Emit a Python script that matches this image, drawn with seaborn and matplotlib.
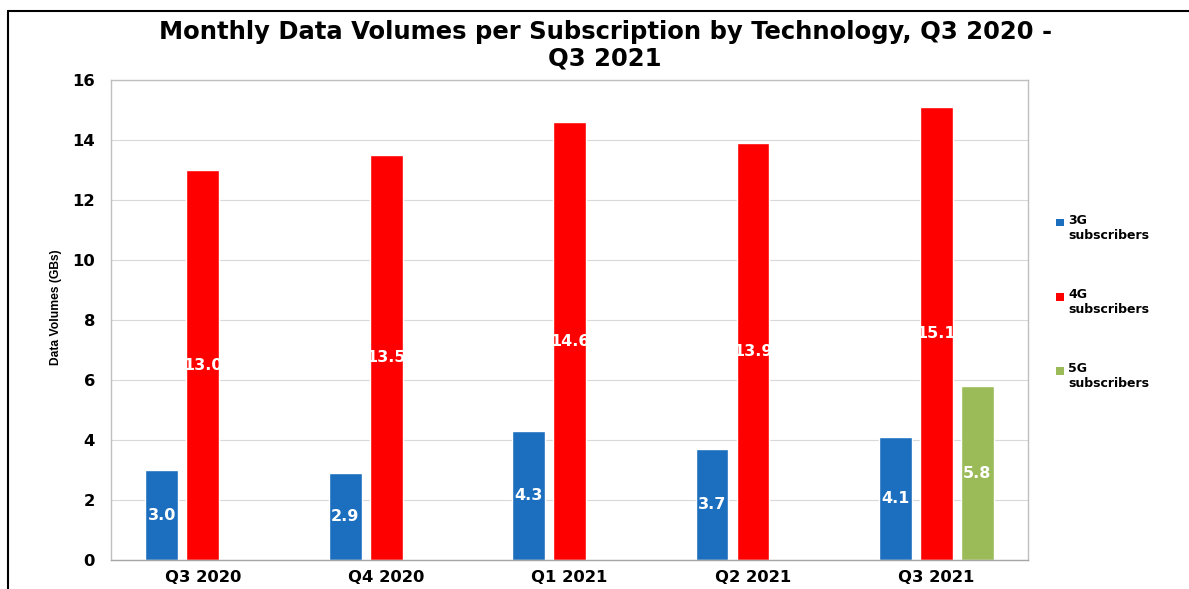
import matplotlib
matplotlib.use("Agg")
import matplotlib.pyplot as plt
import seaborn as sns
import pandas as pd
import numpy as np
from matplotlib.lines import Line2D
from matplotlib.patches import Patch, Rectangle
from matplotlib.legend_handler import HandlerPatch
from matplotlib import font_manager

quarters = ["Q3 2020", "Q4 2020", "Q1 2021", "Q2 2021", "Q3 2021"]
series_names = ["3G subscribers", "4G subscribers", "5G subscribers"]
vol_3g = [3.0, 2.9, 4.3, 3.7, 4.1]
vol_4g = [13.0, 13.5, 14.6, 13.9, 15.1]
vol_5g = [np.nan, np.nan, np.nan, np.nan, 5.8]
colors = ["#1C6EBE", "#FF0000", "#9BBB59"]

rows = []
for name, vals in zip(series_names, [vol_3g, vol_4g, vol_5g]):
    for q, v in zip(quarters, vals):
        rows.append({"Quarter": q, "Technology": name, "GB": v})
df = pd.DataFrame(rows)

sns.set_theme(style="white")
plt.rcParams['font.family'] = ['DejaVu Sans']
plt.rcParams['text.color'] = 'black'
plt.rcParams['axes.labelcolor'] = 'black'
plt.rcParams['xtick.color'] = 'black'
plt.rcParams['ytick.color'] = 'black'

installed = {f.name for f in font_manager.fontManager.ttflist}
if "Liberation Sans Narrow" in installed:
    ylab_family, ylab_size = "Liberation Sans Narrow", 10.5
else:
    ylab_family, ylab_size = "Liberation Sans", 8.7

fig = plt.figure(figsize=(11.89, 5.89), dpi=100)
ax = fig.add_axes([0.0934, 0.0492, 0.7712, 0.815])

sns.barplot(data=df, x="Quarter", y="GB", hue="Technology",
            order=quarters, hue_order=series_names, palette=colors,
            width=0.67, gap=0.2, dodge=True, ax=ax, legend=False, saturation=1,
            errorbar=None)

for cont in ax.containers:
    labels = []
    for p in cont:
        h = p.get_height()
        labels.append("" if (h is None or np.isnan(h) or h == 0) else f"{h:.1f}")
    ax.bar_label(cont, labels=labels, label_type="center", color="white",
                 fontweight="bold", fontsize=11.5)

ax.set_ylim(0, 16)
ax.set_yticks(range(0, 17, 2))
ax.set_xlim(-0.5, 4.5)
ax.yaxis.grid(True, color="#d9d9d9", linewidth=0.8)
ax.set_axisbelow(True)
for s in ax.spines.values():
    s.set_visible(True)
    s.set_color("#bfbfbf")
    s.set_linewidth(1.0)
ax.spines["bottom"].set_color("#a6a6a6")
ax.tick_params(axis="both", length=0, labelsize=11.8, colors="black")
ax.tick_params(axis="y", pad=11.5)
ax.tick_params(axis="x", pad=7)
for lbl in ax.get_xticklabels() + ax.get_yticklabels():
    lbl.set_fontweight("bold")
ax.set_xlabel("")
ax.set_ylabel("Data Volumes (GBs)", fontsize=ylab_size, fontweight="bold",
              family=ylab_family, color="black")
ax.yaxis.set_label_coords(-0.054, 0.527)

fig.text(0.509, 0.966, "Monthly Data Volumes per Subscription by Technology, Q3 2020 -\nQ3 2021",
         ha="center", va="top", fontsize=17.5, fontweight="bold", linespacing=1.15,
         color="black")


def top_square(legend, orig_handle, xdescent, ydescent, width, height, fontsize):
    s = 0.6 * fontsize
    return Rectangle((-xdescent, -ydescent + height - s * 0.95), s, s)


handles = [Patch(facecolor=c, edgecolor="none") for c in colors]
leg_labels = ["3G\nsubscribers", "4G\nsubscribers", "5G\nsubscribers"]
fig.legend(handles, leg_labels, loc="upper left", bbox_to_anchor=(0.879, 0.656),
           frameon=False, handlelength=0.6, handleheight=2.0,
           handletextpad=0.35, labelspacing=3.7, prop={"weight": "bold", "size": 9},
           labelcolor="black",
           handler_map={Patch: HandlerPatch(patch_func=top_square)})

# outer frame lines
fig.add_artist(Line2D([0.007, 1.0], [0.982, 0.982], color="black", linewidth=1.5,
                      transform=fig.transFigure))
fig.add_artist(Line2D([0.007, 0.007], [0.0, 0.982], color="black", linewidth=1.5,
                      transform=fig.transFigure))

fig.savefig("out.png", dpi=100)
